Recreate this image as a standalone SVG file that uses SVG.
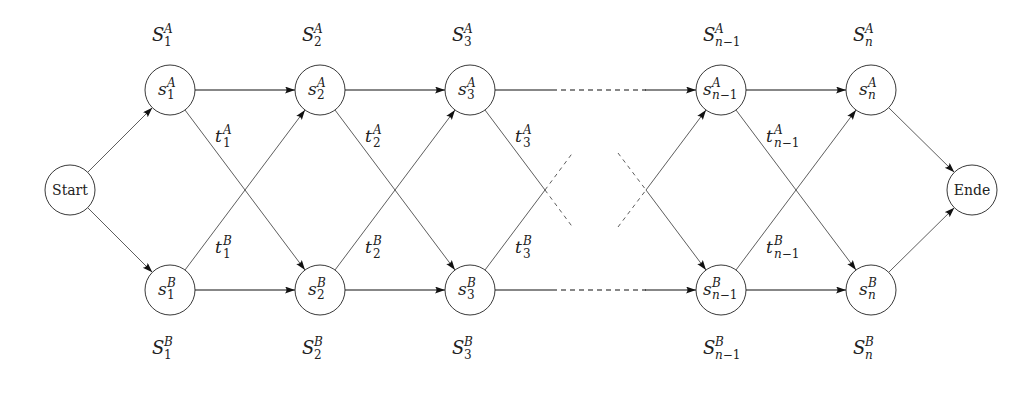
<svg xmlns="http://www.w3.org/2000/svg" width="1024" height="400" viewBox="0 0 1024 400">
<style>
  .node circle { fill: #fff; stroke: #222; stroke-width: 0.9; }
  .m { font-family: "DejaVu Serif", serif; font-style: italic; fill: #222; }
  .big { font-size: 18px; }
  .mid { font-size: 17px; }
  .sm { font-size: 12px; }
  .up { font-style: normal; }
  .word { font-family: "DejaVu Serif", serif; font-size: 14px; fill: #222; text-anchor: middle; }
  .h { stroke: #111; stroke-width: 1.1; fill: none; }
  .d { stroke: #333; stroke-width: 0.8; fill: none; }
  .hd { stroke: #111; stroke-width: 1.1; fill: none; stroke-dasharray: 5 4; }
  .dd { stroke: #333; stroke-width: 0.8; fill: none; stroke-dasharray: 4 4; }
</style>
<defs>
  <marker id="arr" markerUnits="userSpaceOnUse" markerWidth="11" markerHeight="8" refX="10" refY="3.5" orient="auto">
    <path d="M0,0 Q3,3.5 0,7 L10,3.5 z" fill="#111"/>
  </marker>
</defs>
<rect width="1024" height="400" fill="#fff"/>

<g id="connectors">
  <line class="d" x1="87.7" y1="172.3" x2="152.3" y2="107.7" marker-end="url(#arr)"/>
  <line class="d" x1="87.7" y1="207.7" x2="152.3" y2="272.3" marker-end="url(#arr)"/>
  <line class="h" x1="195" y1="90" x2="295" y2="90" marker-end="url(#arr)"/>
  <line class="h" x1="345" y1="90" x2="445" y2="90" marker-end="url(#arr)"/>
  <line class="h" x1="195" y1="290" x2="295" y2="290" marker-end="url(#arr)"/>
  <line class="h" x1="345" y1="290" x2="445" y2="290" marker-end="url(#arr)"/>
  <line class="h" x1="495" y1="90" x2="552" y2="90"/>
  <line class="hd" x1="552" y1="90" x2="646" y2="90"/>
  <line class="h" x1="645" y1="90" x2="696" y2="90" marker-end="url(#arr)"/>
  <line class="h" x1="495" y1="290" x2="552" y2="290"/>
  <line class="hd" x1="552" y1="290" x2="646" y2="290"/>
  <line class="h" x1="645" y1="290" x2="696" y2="290" marker-end="url(#arr)"/>
  <line class="h" x1="746" y1="90" x2="846" y2="90" marker-end="url(#arr)"/>
  <line class="h" x1="746" y1="290" x2="846" y2="290" marker-end="url(#arr)"/>
  <line class="d" x1="185" y1="110" x2="305" y2="270" marker-end="url(#arr)"/>
  <line class="d" x1="185" y1="270" x2="305" y2="110" marker-end="url(#arr)"/>
  <line class="d" x1="335" y1="110" x2="455" y2="270" marker-end="url(#arr)"/>
  <line class="d" x1="335" y1="270" x2="455" y2="110" marker-end="url(#arr)"/>
  <line class="d" x1="485" y1="110" x2="545" y2="190"/>
  <line class="dd" x1="545" y1="190" x2="572.5" y2="227"/>
  <line class="d" x1="485" y1="270" x2="545" y2="190"/>
  <line class="dd" x1="545" y1="190" x2="572.5" y2="153"/>
  <line class="dd" x1="618" y1="153" x2="646" y2="190"/>
  <line class="d" x1="646" y1="190" x2="706" y2="270" marker-end="url(#arr)"/>
  <line class="dd" x1="618" y1="227" x2="646" y2="190"/>
  <line class="d" x1="646" y1="190" x2="706" y2="110" marker-end="url(#arr)"/>
  <line class="d" x1="736" y1="110" x2="856" y2="270" marker-end="url(#arr)"/>
  <line class="d" x1="736" y1="270" x2="856" y2="110" marker-end="url(#arr)"/>
  <line class="d" x1="888.7" y1="107.7" x2="954.3" y2="172.3" marker-end="url(#arr)"/>
  <line class="d" x1="888.7" y1="272.3" x2="954.3" y2="207.7" marker-end="url(#arr)"/>
</g>

<g id="edge-labels">
  <text class="m"><tspan class="mid" x="215" y="142">t</tspan><tspan class="sm" x="223" y="134">A</tspan><tspan class="sm up" x="223" y="147">1</tspan></text>
  <text class="m"><tspan class="mid" x="215" y="253">t</tspan><tspan class="sm" x="223" y="245">B</tspan><tspan class="sm up" x="223" y="258">1</tspan></text>
  <text class="m"><tspan class="mid" x="365" y="142">t</tspan><tspan class="sm" x="373" y="134">A</tspan><tspan class="sm up" x="373" y="147">2</tspan></text>
  <text class="m"><tspan class="mid" x="365" y="253">t</tspan><tspan class="sm" x="373" y="245">B</tspan><tspan class="sm up" x="373" y="258">2</tspan></text>
  <text class="m"><tspan class="mid" x="515" y="142">t</tspan><tspan class="sm" x="523" y="134">A</tspan><tspan class="sm up" x="523" y="147">3</tspan></text>
  <text class="m"><tspan class="mid" x="515" y="253">t</tspan><tspan class="sm" x="523" y="245">B</tspan><tspan class="sm up" x="523" y="258">3</tspan></text>
  <text class="m"><tspan class="mid" x="766" y="142">t</tspan><tspan class="sm" x="774" y="134">A</tspan><tspan class="sm" x="774" y="147">n</tspan><tspan class="sm up">−1</tspan></text>
  <text class="m"><tspan class="mid" x="766" y="253">t</tspan><tspan class="sm" x="774" y="245">B</tspan><tspan class="sm" x="774" y="258">n</tspan><tspan class="sm up">−1</tspan></text>
</g>

<g id="start" class="node">
  <circle cx="70" cy="190" r="25"/>
  <text class="word" x="70" y="195">Start</text>
</g>

<g id="s1A" class="node">
  <circle cx="170" cy="90" r="25"/>
  <text class="m"><tspan class="mid" x="158" y="95">s</tspan><tspan class="sm" x="167" y="87">A</tspan><tspan class="sm up" x="167" y="99">1</tspan></text>
  <text class="m"><tspan class="big" x="152" y="41">S</tspan><tspan class="sm" x="164" y="33">A</tspan><tspan class="sm up" x="164" y="46">1</tspan></text>
</g>
<g id="s1B" class="node">
  <circle cx="170" cy="290" r="25"/>
  <text class="m"><tspan class="mid" x="158" y="295">s</tspan><tspan class="sm" x="167" y="287">B</tspan><tspan class="sm up" x="167" y="299">1</tspan></text>
  <text class="m"><tspan class="big" x="152" y="354">S</tspan><tspan class="sm" x="164" y="346">B</tspan><tspan class="sm up" x="164" y="359">1</tspan></text>
</g>
<g id="s2A" class="node">
  <circle cx="320" cy="90" r="25"/>
  <text class="m"><tspan class="mid" x="308" y="95">s</tspan><tspan class="sm" x="317" y="87">A</tspan><tspan class="sm up" x="317" y="99">2</tspan></text>
  <text class="m"><tspan class="big" x="302" y="41">S</tspan><tspan class="sm" x="314" y="33">A</tspan><tspan class="sm up" x="314" y="46">2</tspan></text>
</g>
<g id="s2B" class="node">
  <circle cx="320" cy="290" r="25"/>
  <text class="m"><tspan class="mid" x="308" y="295">s</tspan><tspan class="sm" x="317" y="287">B</tspan><tspan class="sm up" x="317" y="299">2</tspan></text>
  <text class="m"><tspan class="big" x="302" y="354">S</tspan><tspan class="sm" x="314" y="346">B</tspan><tspan class="sm up" x="314" y="359">2</tspan></text>
</g>
<g id="s3A" class="node">
  <circle cx="470" cy="90" r="25"/>
  <text class="m"><tspan class="mid" x="458" y="95">s</tspan><tspan class="sm" x="467" y="87">A</tspan><tspan class="sm up" x="467" y="99">3</tspan></text>
  <text class="m"><tspan class="big" x="452" y="41">S</tspan><tspan class="sm" x="464" y="33">A</tspan><tspan class="sm up" x="464" y="46">3</tspan></text>
</g>
<g id="s3B" class="node">
  <circle cx="470" cy="290" r="25"/>
  <text class="m"><tspan class="mid" x="458" y="295">s</tspan><tspan class="sm" x="467" y="287">B</tspan><tspan class="sm up" x="467" y="299">3</tspan></text>
  <text class="m"><tspan class="big" x="452" y="354">S</tspan><tspan class="sm" x="464" y="346">B</tspan><tspan class="sm up" x="464" y="359">3</tspan></text>
</g>
<g id="sn1A" class="node">
  <circle cx="721" cy="90" r="25"/>
  <text class="m"><tspan class="mid" x="703" y="95">s</tspan><tspan class="sm" x="712" y="87">A</tspan><tspan class="sm" x="712" y="99">n</tspan><tspan class="sm up">−1</tspan></text>
  <text class="m"><tspan class="big" x="703" y="41">S</tspan><tspan class="sm" x="715" y="33">A</tspan><tspan class="sm" x="715" y="46">n</tspan><tspan class="sm up">−1</tspan></text>
</g>
<g id="sn1B" class="node">
  <circle cx="721" cy="290" r="25"/>
  <text class="m"><tspan class="mid" x="703" y="295">s</tspan><tspan class="sm" x="712" y="287">B</tspan><tspan class="sm" x="712" y="299">n</tspan><tspan class="sm up">−1</tspan></text>
  <text class="m"><tspan class="big" x="703" y="354">S</tspan><tspan class="sm" x="715" y="346">B</tspan><tspan class="sm" x="715" y="359">n</tspan><tspan class="sm up">−1</tspan></text>
</g>
<g id="snA" class="node">
  <circle cx="871" cy="90" r="25"/>
  <text class="m"><tspan class="mid" x="859" y="95">s</tspan><tspan class="sm" x="868" y="87">A</tspan><tspan class="sm" x="868" y="99">n</tspan></text>
  <text class="m"><tspan class="big" x="853" y="41">S</tspan><tspan class="sm" x="865" y="33">A</tspan><tspan class="sm" x="865" y="46">n</tspan></text>
</g>
<g id="snB" class="node">
  <circle cx="871" cy="290" r="25"/>
  <text class="m"><tspan class="mid" x="859" y="295">s</tspan><tspan class="sm" x="868" y="287">B</tspan><tspan class="sm" x="868" y="299">n</tspan></text>
  <text class="m"><tspan class="big" x="853" y="354">S</tspan><tspan class="sm" x="865" y="346">B</tspan><tspan class="sm" x="865" y="359">n</tspan></text>
</g>
<g id="ende" class="node">
  <circle cx="972" cy="190" r="25"/>
  <text class="word" x="972" y="195">Ende</text>
</g>
</svg>
